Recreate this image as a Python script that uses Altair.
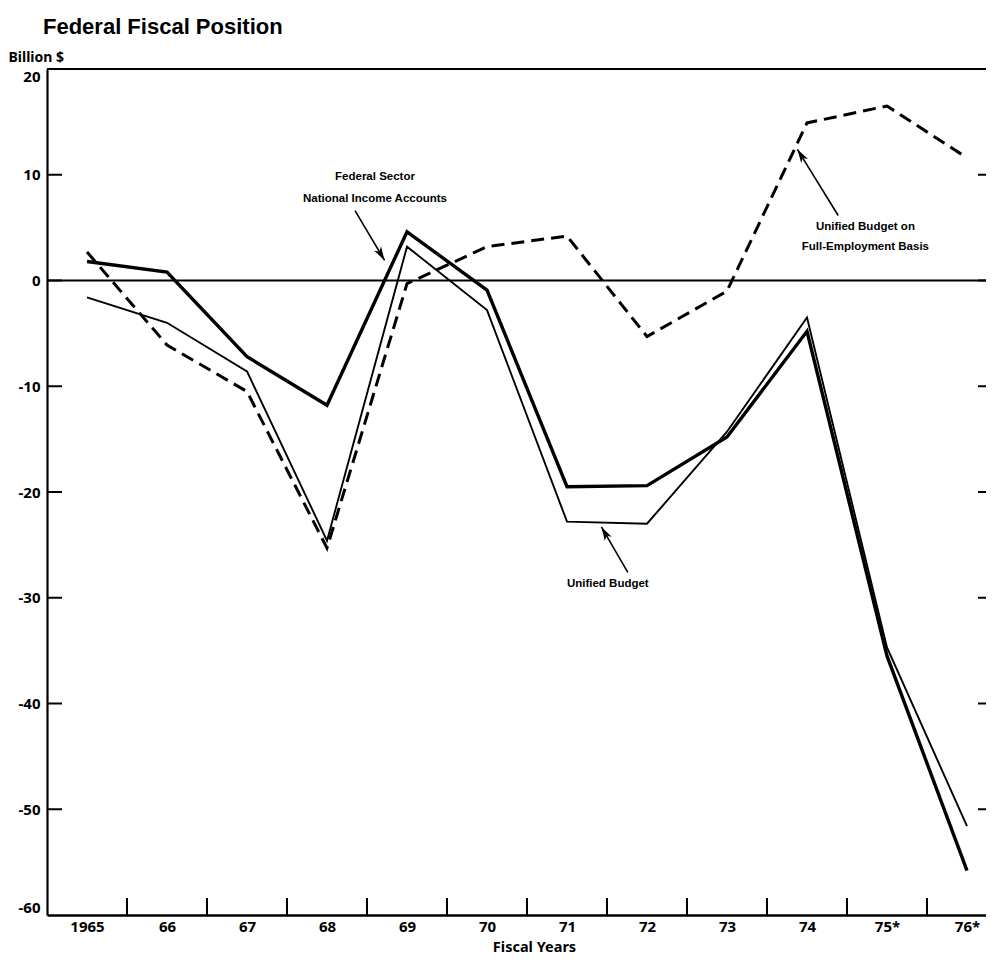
import math
import altair as alt
import pandas as pd

# ---------------- data ----------------
years = list(range(1965, 1977))
year_labels = ["1965", "66", "67", "68", "69", "70", "71", "72", "73", "74", "75*", "76*"]

# Federal Sector, National Income Accounts (thick solid)
nia = [1.8, 0.8, -7.2, -11.8, 4.6, -0.9, -19.5, -19.4, -14.8, -4.8, -35.5, -55.8]
# Unified Budget (thin solid)
unified = [-1.6, -4.0, -8.6, -24.6, 3.2, -2.8, -22.8, -23.0, -14.3, -3.5, -34.7, -51.6]
# Unified Budget on Full-Employment Basis (dashed)
full_emp = [2.7, -6.1, -10.5, -25.3, -0.3, 3.2, 4.2, -5.3, -1.0, 14.9, 16.5, 11.6]

y_ticks = [-60, -50, -40, -30, -20, -10, 0, 10, 20]
band_edges = [1965.5, 1966.5, 1967.5, 1968.5, 1969.5, 1970.5,
              1971.5, 1972.5, 1973.5, 1974.5, 1975.5]

notes_text = ["Federal Sector", "National Income Accounts", "Unified Budget",
              "Unified Budget on", "Full-Employment Basis"]
notes_x = [1968.6, 1968.6, 1971.51, 1974.73, 1974.73]
notes_y = [9.8, 7.75, -28.7, 5.1, 3.2]

arrow_x1 = [1968.35, 1971.76, 1974.39]
arrow_y1 = [6.6, -27.6, 6.15]
arrow_x2 = [1968.72, 1971.43, 1973.88]
arrow_y2 = [1.9, -23.3, 12.4]

# ---------------- layout ----------------
W, H = 939, 846
X_MIN, X_MAX = 1964.5, 1964.5 + W / 80.0
Y_MIN, Y_MAX = -60, 20
PX_X = W / (X_MAX - X_MIN)
PX_Y = H / (Y_MAX - Y_MIN)

FONT_NUM = "Noto Sans"
FONT_TXT = "Liberation Sans"

xs = alt.Scale(domain=[X_MIN, X_MAX], nice=False, zero=False)
ys = alt.Scale(domain=[Y_MIN, Y_MAX], nice=False, zero=False)

x_label_expr = "[" + ",".join("'%s'" % s for s in year_labels) + "][datum.value - 1965]"
y_label_expr = "datum.value < 0 ? '-' + abs(datum.value) : '' + datum.value"

x_axis = alt.Axis(values=years, labelExpr=x_label_expr, ticks=False, grid=False,
                  domain=True, domainColor="black", domainWidth=2.5,
                  labelFont=FONT_NUM, labelFontWeight="bold", labelFontSize=15,
                  labelColor="black", labelPadding=4, labelFlush=False,
                  title="Fiscal Years", titleFont=FONT_NUM, titleFontWeight="bold",
                  titleFontSize=14.5, titleColor="black", titleX=487, titleY=32,
                  titleBaseline="middle", titleAlign="center")
y_axis = alt.Axis(values=y_ticks, labelExpr=y_label_expr, ticks=False, grid=False,
                  domain=True, domainColor="black", domainWidth=2.2,
                  labelFont=FONT_NUM, labelFontWeight="bold", labelFontSize=15,
                  labelColor="black", labelPadding=7, labelFlush=True,
                  title="Billion $", titleFont=FONT_NUM, titleFontWeight="bold",
                  titleFontSize=14, titleColor="black", titleAngle=0,
                  titleAlign="left", titleBaseline="middle", titleX=-39, titleY=-12)


def X(field):
    return alt.X(field, scale=xs, axis=x_axis)


def Y(field):
    return alt.Y(field, scale=ys, axis=y_axis)


def series_df(vals):
    return pd.DataFrame({"year": years, "value": vals})


line_nia = alt.Chart(series_df(nia)).mark_line(
    color="black", strokeWidth=3.4, strokeJoin="miter", strokeCap="butt"
).encode(x=X("year:Q"), y=Y("value:Q"))

line_uni = alt.Chart(series_df(unified)).mark_line(
    color="black", strokeWidth=1.9, strokeJoin="miter"
).encode(x=X("year:Q"), y=Y("value:Q"))

line_fe = alt.Chart(series_df(full_emp)).mark_line(
    color="black", strokeWidth=3.0, strokeDash=[13, 7], strokeJoin="miter"
).encode(x=X("year:Q"), y=Y("value:Q"))

zero_line = alt.Chart(pd.DataFrame({"v": [0]})).mark_rule(
    color="black", strokeWidth=2).encode(y=Y("v:Q"))
top_line = alt.Chart(pd.DataFrame({"v": [Y_MAX]})).mark_rule(
    color="black", strokeWidth=2.2).encode(y=Y("v:Q"))

# inward ticks
inner_y = [v for v in y_ticks if Y_MIN < v < Y_MAX]
bt = pd.DataFrame({"x": band_edges, "y": [Y_MIN] * len(band_edges),
                   "y2": [Y_MIN + 17 / PX_Y] * len(band_edges)})
bottom_ticks = alt.Chart(bt).mark_rule(color="black", strokeWidth=2).encode(
    x=X("x:Q"), y=Y("y:Q"), y2="y2:Q")
lt = pd.DataFrame({"y": inner_y, "x": [X_MIN] * len(inner_y),
                   "x2": [X_MIN + 15 / PX_X] * len(inner_y)})
left_ticks = alt.Chart(lt).mark_rule(color="black", strokeWidth=2).encode(
    y=Y("y:Q"), x=X("x:Q"), x2="x2:Q")
rt = pd.DataFrame({"y": inner_y, "x": [X_MAX - 8 / PX_X] * len(inner_y),
                   "x2": [X_MAX] * len(inner_y)})
right_ticks = alt.Chart(rt).mark_rule(color="black", strokeWidth=2).encode(
    y=Y("y:Q"), x=X("x:Q"), x2="x2:Q")

# annotations
notes = alt.Chart(pd.DataFrame({"t": notes_text, "x": notes_x, "y": notes_y})).mark_text(
    font=FONT_TXT, fontSize=11.5, fontWeight="bold", color="black",
    align="center", baseline="middle"
).encode(x=X("x:Q"), y=Y("y:Q"), text="t:N")

arr = pd.DataFrame({"x": arrow_x1, "y": arrow_y1, "x2": arrow_x2, "y2": arrow_y2})
arr["ang"] = [
    (math.degrees(math.atan2((b - a) * PX_X, (d - c) * PX_Y)) + 360) % 360
    for a, b, c, d in zip(arrow_x1, arrow_x2, arrow_y1, arrow_y2)
]
arrow_lines = alt.Chart(arr).mark_rule(color="black", strokeWidth=1.6).encode(
    x=X("x:Q"), y=Y("y:Q"), x2="x2:Q", y2="y2:Q")
arrow_heads = alt.Chart(arr).mark_point(
    shape="M0,0L0.7,2.4L0,1.8L-0.7,2.4Z", filled=True, color="black",
    opacity=1, size=130, strokeWidth=0
).encode(x=X("x2:Q"), y=Y("y2:Q"), angle=alt.Angle("ang:Q", scale=None))

chart = alt.layer(
    line_nia, zero_line, top_line, bottom_ticks, left_ticks, right_ticks,
    line_uni, line_fe, notes, arrow_lines, arrow_heads
).properties(
    width=W, height=H,
    autosize="none",
    padding={"left": 39, "top": 61, "right": 0, "bottom": 40},
    title=alt.TitleParams("Federal Fiscal Position", anchor="start", frame="group",
                          font=FONT_TXT, fontSize=22, fontWeight="bold",
                          color="black", offset=11, dx=-4),
).configure_view(stroke=None)

chart.save("out.html", embed_options={"renderer": "svg", "actions": False})
